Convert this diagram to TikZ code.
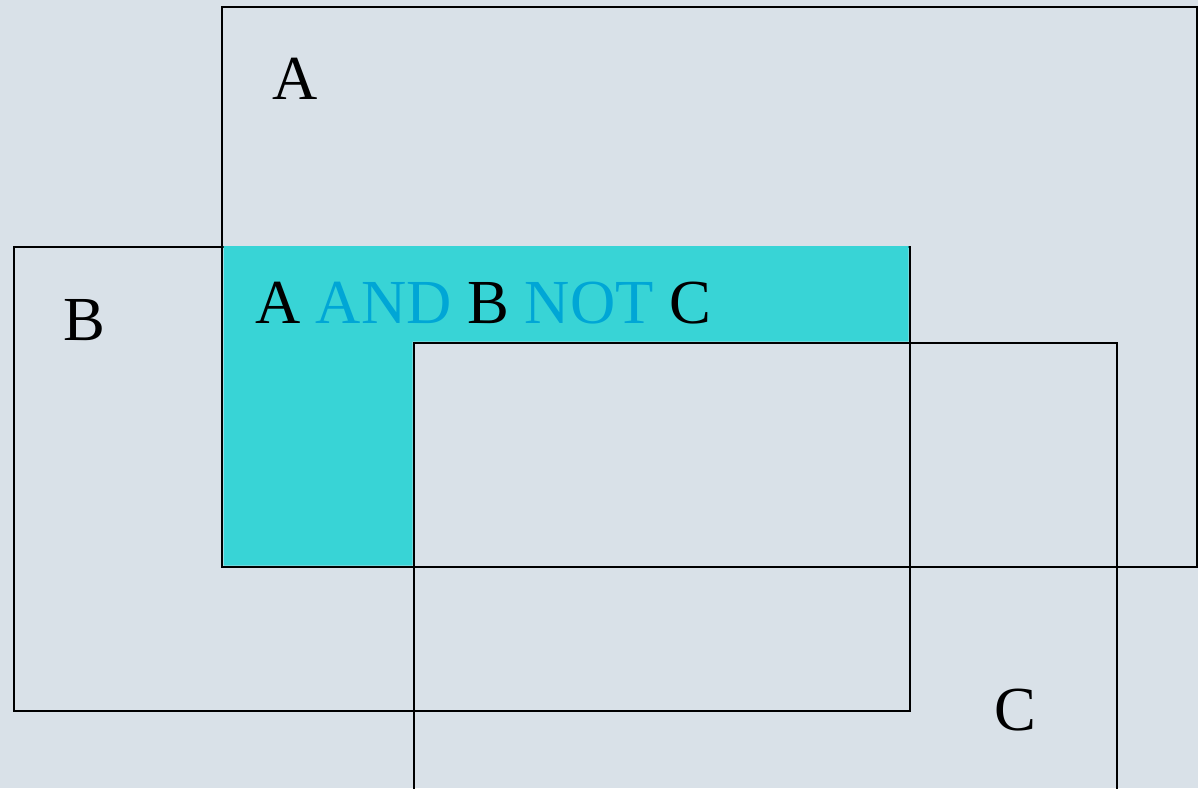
\documentclass[tikz,border=0pt]{standalone}
\usepackage{fontspec}
\setmainfont{Liberation Serif}
\definecolor{bgcolor}{RGB}{217,225,232}
\definecolor{fillcyan}{RGB}{56,212,214}
\definecolor{andblue}{RGB}{0,166,214}
\tikzset{every picture/.style={line width=1.5pt}}
\tikzset{setlabel/.style={anchor=base west,inner sep=0pt,font=\fontsize{47}{56}\selectfont}}
\begin{document}
\begin{tikzpicture}[x=0.75pt,y=0.75pt,yscale=-1,xscale=1]
    %Background
    \fill [bgcolor] (0,0) rectangle (1198,788);
    \useasboundingbox (0,0) rectangle (1198,788);
    \clip (0,0) rectangle (1198,788);

    %Shape: Rectangle A
    \draw  (222,7) rectangle (1197,567) ;
    %Shape: Rectangle B
    \draw  (14,247) rectangle (910,711) ;
    %Shape: Rectangle C
    \draw  (414,343) rectangle (1117,800) ;
    %Shape: Polygon (A and B not C), laid over the B top edge
    \fill [fillcyan] (223.5,246) -- (908.5,246) -- (908.5,341.5) -- (412.5,341.5) -- (412.5,565.5) -- (223.5,565.5) -- cycle ;

    % Text Node
    \draw (271,100) node [setlabel] (labelA) {A};
    % Text Node
    \draw (62,340) node [setlabel] (labelB) {B};
    % Text Node
    \draw (993,730) node [setlabel] (labelC) {C};
    % Text Node
    \draw (254,323) node [setlabel] (labelAandBnotC) {A \textcolor{andblue}{AND} B \textcolor{andblue}{NOT} C};

\end{tikzpicture}
\end{document}
